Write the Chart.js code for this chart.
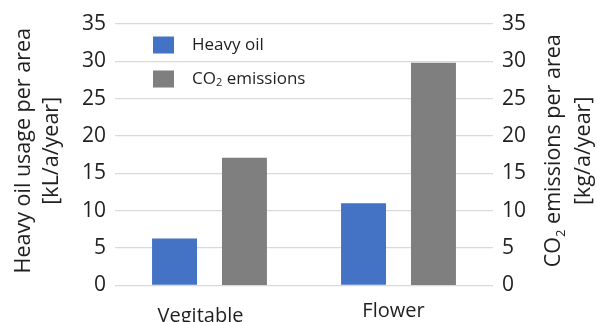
<!DOCTYPE html>
<html>
<head>
<meta charset="utf-8">
<script src="https://cdn.jsdelivr.net/npm/chart.js@4/dist/chart.umd.min.js"></script>
<style>
  html, body { margin: 0; padding: 0; background: #ffffff; }
  #wrap { width: 597px; height: 322px; }
</style>
</head>
<body>
<div id="wrap"><canvas id="chart" width="597" height="322"></canvas></div>
<script>
// Crop categories and the two measured series
const categories = ['Vegitable', 'Flower'];
const heavyOil = [6.3, 11.0];        // kL/a/year
const co2Emissions = [17.1, 29.8];   // kg/a/year
const seriesNames = ['Heavy oil', 'CO₂ emissions'];
const yTickValues = [0, 5, 10, 15, 20, 25, 30, 35];
const leftTitle = ['Heavy oil usage per area', '[kL/a/year]'];
const rightTitle = ['CO₂ emissions per area', '[kg/a/year]'];

const FONT = "'Open Sans', 'Liberation Sans', sans-serif";
const TEXT = '#1f1f1f';
const BLUE = '#4472C4';
const GREY = '#7F7F7F';

// Draws a string, rendering "₂" as a lowered small "2"; returns the width
function richText(ctx, str, x, y, size, measureOnly) {
  const parts = str.split('₂');
  let cx = x;
  parts.forEach((p, i) => {
    ctx.font = size + 'px ' + FONT;
    if (!measureOnly) ctx.fillText(p, cx, y);
    cx += ctx.measureText(p).width;
    if (i < parts.length - 1) {
      const sub = Math.round(size * 0.62);
      ctx.font = sub + 'px ' + FONT;
      if (!measureOnly) ctx.fillText('2', cx, y + size * 0.22);
      cx += ctx.measureText('2').width;
    }
  });
  return cx - x;
}

const decorations = {
  id: 'decorations',
  afterDraw(chart, args, opts) {
    const ctx = chart.ctx;
    const area = chart.chartArea;
    ctx.save();
    ctx.fillStyle = TEXT;
    ctx.textBaseline = 'alphabetic';
    ctx.textAlign = 'left';

    // category labels under the groups
    const xs = chart.scales.x;
    categories.forEach((c, i) => {
      ctx.font = opts.catSize + 'px ' + FONT;
      const w = ctx.measureText(c).width;
      const x = xs.getPixelForValue(i) + opts.catDx[i];
      ctx.fillText(c, x - w / 2, area.bottom + opts.catBaseline[i]);
    });

    // rotated axis titles, both reading bottom to top
    const cy = (area.top + area.bottom) / 2 + opts.titleDy;
    const drawTitle = (lines, baselines) => {
      lines.forEach((line, i) => {
        ctx.save();
        ctx.translate(baselines[i], cy);
        ctx.rotate(-Math.PI / 2);
        const w = richText(ctx, line, 0, 0, opts.titleSize, true);
        richText(ctx, line, -w / 2, 0, opts.titleSize, false);
        ctx.restore();
      });
    };
    drawTitle(leftTitle, opts.leftBaselines);
    drawTitle(rightTitle, opts.rightBaselines.map(b => chart.width - b));

    // legend inside the plot, top left
    chart.data.datasets.forEach((ds, i) => {
      const yc = area.top + opts.legendTop + i * opts.legendStep;
      ctx.fillStyle = ds.backgroundColor;
      ctx.fillRect(area.left + opts.legendBoxX, yc - opts.boxH / 2, opts.boxW, opts.boxH);
      ctx.fillStyle = TEXT;
      ctx.textBaseline = 'middle';
      richText(ctx, ds.label, area.left + opts.legendTextX, yc, opts.legendSize, false);
      ctx.textBaseline = 'alphabetic';
    });
    ctx.restore();
  }
};

const tickFont = { family: FONT, size: 21 };

new Chart(document.getElementById('chart'), {
  type: 'bar',
  data: {
    labels: categories,
    datasets: [
      { label: seriesNames[0], data: heavyOil, backgroundColor: BLUE, yAxisID: 'y' },
      { label: seriesNames[1], data: co2Emissions, backgroundColor: GREY, yAxisID: 'y2' }
    ]
  },
  options: {
    responsive: false,
    devicePixelRatio: 1,
    animation: false,
    layout: { padding: { top: 24, right: 0, bottom: 0, left: 0 } },
    datasets: { bar: { categoryPercentage: 0.74, barPercentage: 0.643 } },
    plugins: {
      legend: { display: false },
      tooltip: { enabled: false },
      decorations: {
        catSize: 20, catDx: [-9, -5], catBaseline: [36, 31.5],
        titleSize: 21.5, titleDy: -4,
        leftBaselines: [30, 58], rightBaselines: [37, 7],
        legendTop: 21, legendStep: 34, legendBoxX: 38, legendTextX: 77,
        boxW: 21, boxH: 17, legendSize: 17
      }
    },
    scales: {
      x: {
        grid: { display: false },
        border: { display: false },
        ticks: { display: false },
        afterFit(s) { s.height = 36.5; }
      },
      y: {
        position: 'left',
        min: 0, max: 35,
        afterBuildTicks(s) { s.ticks = yTickValues.map(v => ({ value: v })); },
        ticks: { font: tickFont, color: TEXT, padding: 9 },
        grid: { color: '#D9D9D9', lineWidth: 1.3, drawTicks: false },
        border: { display: false },
        afterFit(s) { s.width = 115; }
      },
      y2: {
        position: 'right',
        min: 0, max: 35,
        afterBuildTicks(s) { s.ticks = yTickValues.map(v => ({ value: v })); },
        ticks: { font: tickFont, color: TEXT, padding: 9 },
        grid: { drawOnChartArea: false, drawTicks: false },
        border: { display: false },
        afterFit(s) { s.width = 104; }
      }
    }
  },
  plugins: [decorations]
});
</script>
</body>
</html>
